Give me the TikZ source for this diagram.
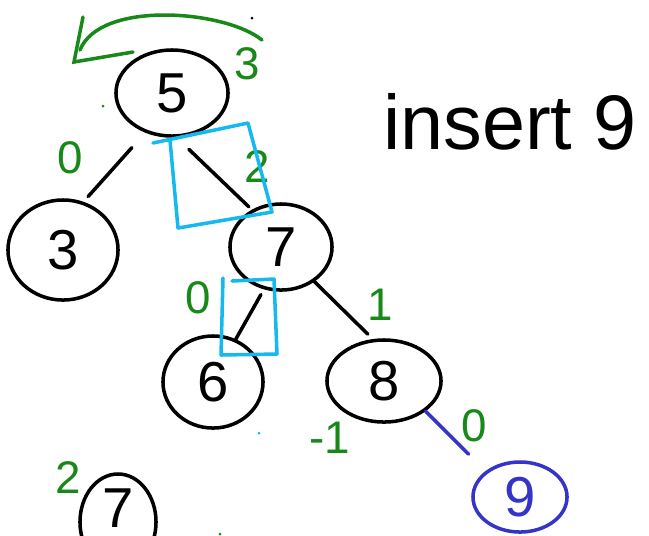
\documentclass[tikz,border=0pt]{standalone}
\usepackage{fontspec}
\setmainfont{Liberation Sans}
\usetikzlibrary{shapes.geometric}
\definecolor{balgreen}{RGB}{24,136,24}
\definecolor{rotcyan}{RGB}{22,184,240}
\definecolor{newblue}{RGB}{52,52,200}
\tikzset{
  key/.style={draw, ellipse, line width=1pt, inner sep=0pt, font=\fontsize{16}{16}\selectfont},
  bal/.style={text=balgreen, inner sep=0pt, font=\fontsize{13}{13}\selectfont},
  link/.style={line width=1pt, line cap=round},
  rotbox/.style={draw=rotcyan, line width=1pt, line join=round},
}

\begin{document}
\begin{tikzpicture}[x=0.01cm, y=-0.01cm, line cap=round]
    \useasboundingbox (0,0) rectangle (649,535) ;
    \clip (0,0) rectangle (649,535) ;

    % the tree
    \node [key, minimum width=1.12cm, minimum height=0.86cm] (n5) at (172,93) {5} ;
    \node [key, minimum width=1.10cm, minimum height=1.00cm] (n3) at (63,250) {3} ;
    \node [key, minimum width=1.02cm, minimum height=0.86cm] (n7) at (281,247) {7} ;
    \node [key, minimum width=1.00cm, minimum height=0.92cm] (n6) at (213,382) {6} ;
    \node [key, minimum width=1.14cm, minimum height=0.82cm] (n8) at (384,381) {8} ;
    \node [key, draw=newblue, text=newblue, minimum width=0.94cm, minimum height=0.70cm] (n9) at (520,497) {9} ;
    \node [key, text depth=8pt, minimum width=0.76cm, minimum height=0.96cm] (m7) at (118,522) {7} ;

    \draw [link, shorten <=0.2cm, shorten >=0.07cm] (n5.236) -- (n3.67) ;
    \draw [link, shorten <=0.17cm, shorten >=0.04cm] (n5.276) -- (n7.128) ;
    \draw [link, shorten <=0.06cm] (n7.248) -- (n6.62) ;
    \draw [link, shorten >=0.07cm] (n7.314) -- (n8.105) ;
    \draw [link, newblue, shorten >=0.24cm] (n8.324) -- (n9.143) ;

    % balance factors
    \node [bal] (b5) at (247,64) {3} ;
    \node [bal] (b3) at (70,158) {0} ;
    \node [bal] (b7) at (257,167) {2} ;
    \node [bal] (b6) at (198,298) {0} ;
    \node [bal] (b8) at (380,305) {1} ;
    \node [bal] (b8n) at (330,438) {-1} ;
    \node [bal] (b9) at (474,426) {0} ;
    \node [bal] (bm7) at (68,478) {2} ;

    % rotation marks
    \draw [balgreen, line width=1pt] (262,40) .. controls (225,10) and (100,0) .. (80,50) ;
    \draw [balgreen, line width=1pt] (83,17) -- (74,62) -- (133,52) ;
    \draw [rotbox] (153,143) -- (248,123) -- (272,212) -- (178,228) -- (170,140) ;
    \draw [rotbox] (232,281) -- (274,279) -- (277,354) -- (221,355) -- (223,278) ;

    \fill (252,18) circle (1.5) ;
    \fill [balgreen] (103,106) circle (1.5) ;
    \fill [rotcyan] (259,433) circle (1.5) ;
    \fill [balgreen] (220,534) circle (1.5) ;

    \node [font=\fontsize{22}{22}\selectfont] (title) at (510,122) {insert 9} ;
\end{tikzpicture}
\end{document}
